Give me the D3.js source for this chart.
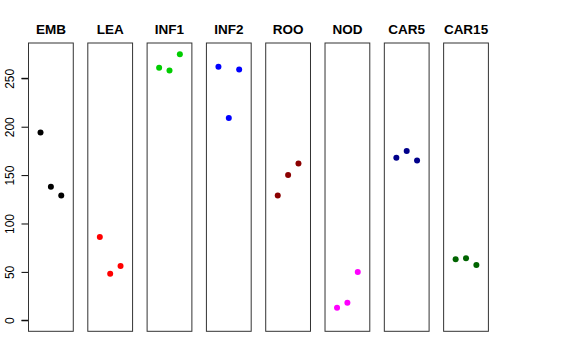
<!DOCTYPE html>
<html>
<head>
<meta charset="utf-8">
<script src="https://cdn.jsdelivr.net/npm/d3@7"></script>
<style>
  body { margin: 0; background: #fff; }
  svg { display: block; font-family: "Liberation Sans", Arial, sans-serif; }
</style>
</head>
<body>
<svg id="chart" width="576" height="360"></svg>
<script>
// one panel per tissue, three replicates each
var groups = ["EMB", "LEA", "INF1", "INF2", "ROO", "NOD", "CAR5", "CAR15"];
var colors = ["#000000", "#ff0000", "#00cd00", "#0000ff", "#8b0000", "#ff00ff", "#00008b", "#006400"];
var replicates = [1, 2, 3];
var values = [
    [194, 138, 129],
    [86, 48, 56],
    [261, 258, 275],
    [262, 209, 259],
    [129, 150, 162],
    [13, 18, 50],
    [168, 175, 165],
    [63, 64, 57]
];
var yTicks = [0, 50, 100, 150, 200, 250];

var svg = d3.select("#chart");

var panel = d3.scaleBand()
    .domain(groups)
    .range([28.5, 488.4])
    .paddingInner(0.245)
    .paddingOuter(0);

var x = d3.scaleLinear()
    .domain([-0.16, 4.16])
    .range([0, panel.bandwidth()]);

var y = d3.scaleLinear()
    .domain([-11.4, 286.5])
    .range([331.3, 43]);

// y axis, drawn against the first panel only
var yAxis = d3.axisLeft(y)
    .tickValues(yTicks)
    .tickSize(7);

var axisG = svg.append("g")
    .attr("transform", "translate(" + panel(groups[0]) + ",0)")
    .call(yAxis);
axisG.select(".domain")
    .attr("d", "M-7," + y(0) + "H0V" + y(250) + "H-7")
    .attr("stroke", "#000");
axisG.selectAll(".tick line").attr("stroke", "#000");
axisG.selectAll(".tick text")
    .attr("transform", "rotate(-90)")
    .attr("x", 0)
    .attr("y", -14.5)
    .attr("dy", "0")
    .attr("text-anchor", "middle")
    .attr("fill", "#000")
    .style("font-size", "12px")
    .style("font-family", "Liberation Sans, Arial, sans-serif");

var panels = svg.selectAll(".panel")
    .data(groups)
    .enter().append("g")
    .attr("class", "panel")
    .attr("transform", function(d) { return "translate(" + panel(d) + ",0)"; });

panels.append("rect")
    .attr("x", 0)
    .attr("y", y.range()[1])
    .attr("width", panel.bandwidth())
    .attr("height", y.range()[0] - y.range()[1])
    .attr("fill", "none")
    .attr("stroke", "#333")
    .attr("stroke-width", 1);

panels.append("text")
    .attr("x", panel.bandwidth() / 2)
    .attr("y", 34)
    .attr("text-anchor", "middle")
    .style("font-size", "13.5px")
    .style("font-weight", "bold")
    .text(function(d) { return d; });

panels.selectAll("circle")
    .data(function(d, i) {
        return values[i].map(function(v, j) { return {rep: replicates[j], val: v, col: colors[i]}; });
    })
    .enter().append("circle")
    .attr("cx", function(d) { return x(d.rep); })
    .attr("cy", function(d) { return y(d.val); })
    .attr("r", 3)
    .attr("fill", function(d) { return d.col; });
</script>
</body>
</html>
